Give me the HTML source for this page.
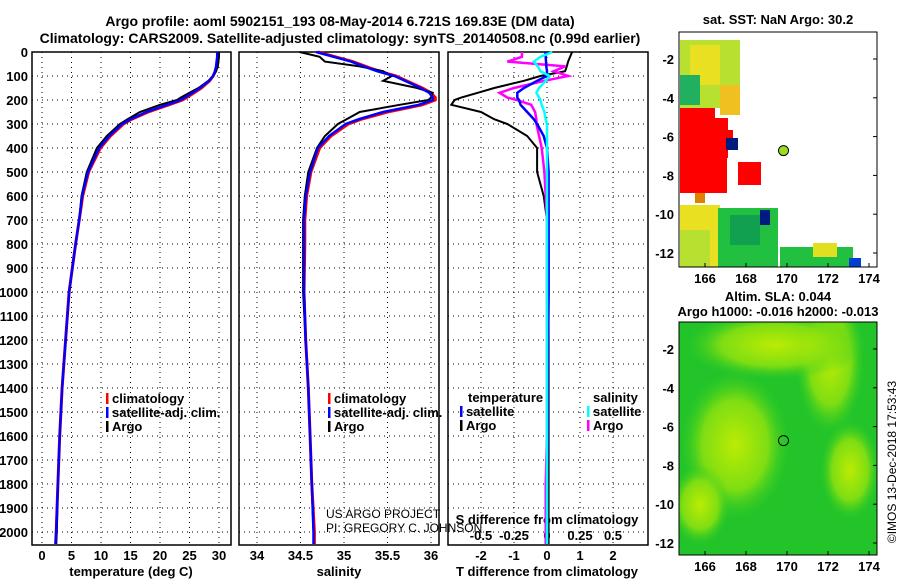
<!DOCTYPE html>
<html><head><meta charset="utf-8"><style>
body{margin:0;background:#fff;width:900px;height:580px;overflow:hidden}
svg{font-family:"Liberation Sans",sans-serif;font-weight:bold;font-size:13px}
</style></head><body>
<svg id="c" width="900" height="580" viewBox="0 0 900 580">
<text x="340" y="26" text-anchor="middle" font-size="14">Argo profile: aoml 5902151_193 08-May-2014 6.721S 169.83E (DM data)</text>
<text x="340" y="43" text-anchor="middle" font-size="14">Climatology: CARS2009. Satellite-adjusted climatology: synTS_20140508.nc (0.99d earlier)</text>
<text x="778" y="24" text-anchor="middle">sat. SST: NaN Argo: 30.2</text>
<text x="778" y="301" text-anchor="middle">Altim. SLA: 0.044</text>
<text x="778" y="316" text-anchor="middle">Argo h1000: -0.016 h2000: -0.013</text>
<text transform="translate(896,462) rotate(-90)" text-anchor="middle" font-weight="normal" font-size="12">©IMOS 13-Dec-2018 17:53:43</text>
<g id="g"></g>
</svg>
<script>
const depths=[0,20,40,60,80,100,120,150,170,190,200,220,250,280,300,350,400,500,600,700,800,1000,1200,1400,1600,1800,2000,2050];
const tempArgo=[30,30,29.9,29.8,29.5,29,28.2,26.5,25,23.5,22.9,20,16.6,14.5,13.2,11,9.3,7.6,6.7,6.3,5.7,4.6,4.0,3.4,3.0,2.7,2.5,2.4];
const tempClim=[29.8,29.8,29.7,29.6,29.4,29,28.4,27,25.8,24.5,23.8,21.5,18,15.2,13.8,11.6,9.9,7.9,6.9,6.3,5.7,4.6,4.0,3.4,3.0,2.7,2.4,2.3];
const tempSat=[29.7,29.7,29.6,29.5,29.3,29,28.3,26.8,25.5,24.2,23.5,21.2,17.7,15,13.6,11.4,9.7,7.8,6.8,6.3,5.7,4.6,4.0,3.4,3.0,2.7,2.4,2.3];
const salArgo=[34.49,34.72,34.78,35.18,35.45,35.55,35.45,35.84,36.02,36.0,35.97,35.64,35.18,35.03,34.93,34.78,34.69,34.59,34.55,34.53,34.53,34.53,34.56,34.59,34.61,34.63,34.65,34.65];
const salClim=[34.7,34.9,35.1,35.25,35.4,35.6,35.72,35.9,36.0,36.05,36.05,35.9,35.5,35.2,35.05,34.85,34.72,34.62,34.57,34.55,34.55,34.54,34.56,34.59,34.61,34.63,34.66,34.66];
const salSat=[34.68,34.88,35.08,35.23,35.38,35.58,35.7,35.88,35.98,36.02,36.02,35.86,35.45,35.17,35.02,34.83,34.7,34.61,34.56,34.54,34.54,34.54,34.56,34.59,34.61,34.63,34.65,34.65];
const dTArgo=[0.76,0.7,0.64,0.6,0.55,-0.2,-0.7,-1.6,-2.1,-2.6,-2.8,-2.9,-2.0,-1.6,-1.2,-0.6,-0.3,-0.3,-0.1,0,0.05,0.05,0.05,0.05,0.05,0.05,0.05,0.05];
const dTSat=[-0.05,-0.04,-0.03,-0.02,0,0,-0.3,-0.7,-0.9,-0.9,-0.85,-0.8,-0.6,-0.4,-0.3,-0.1,0,0.05,0.05,0.05,0.05,0.05,0.03,0.02,0.02,0,0,0];
const dSArgo=[-0.19,-0.19,-0.3,0.14,0.05,0.16,-0.02,-0.25,-0.36,-0.3,-0.23,-0.12,-0.09,-0.08,-0.08,-0.06,-0.04,-0.02,-0.01,0,0,0,0,0,0,-0.01,-0.01,-0.01];
const dSSat=[0.04,-0.05,-0.1,-0.07,-0.05,0.02,-0.01,-0.06,-0.08,-0.06,-0.05,-0.04,-0.02,-0.01,0,0,0,0,0,0,0,0,0,0,0,0,0,0];
const depthTicks=[0,100,200,300,400,500,600,700,800,900,1000,1100,1200,1300,1400,1500,1600,1700,1800,1900,2000];
const tTicks=[0,5,10,15,20,25,30];
const sTicks=[34,34.5,35,35.5,36];
const sTickLabels=["34","34.5","35","35.5","36"];
const dTTicks=[-2,-1,0,1,2];
const dSTicks=[-0.5,-0.25,0,0.25,0.5];
const lonTicks=[166,168,170,172,174];
const latTicks=[-2,-4,-6,-8,-10,-12];
const argoLon=169.83, argoLat=-6.721;

const NS="http://www.w3.org/2000/svg";
const G=document.getElementById('g');
function el(t,a,p){const e=document.createElementNS(NS,t);for(const k in a)e.setAttribute(k,a[k]);(p||G).appendChild(e);return e;}
const yD=d=>52+d*0.24;
const xT=v=>42+v*5.9;
const xS=v=>257+(v-34)*87;
const xDT=v=>547+v*33;
const xDS=v=>547+v*132;
const TOP=52,BOT=545;
const panels=[[32,231],[239,439],[448,648]];

panels.forEach((p,i)=>{
  const r=el('rect',{x:p[0],y:TOP,width:p[1]-p[0],height:BOT-TOP,fill:'none',stroke:'#000','stroke-width':1.5});
  
  
  depthTicks.forEach(d=>{
    const l=el('line',{x1:p[0],x2:p[1],y1:yD(d),y2:yD(d),stroke:'#000','stroke-dasharray':'1 4','stroke-width':1});
    
    
  });
});
depthTicks.forEach(d=>{
  const t=el('text',{x:28,y:yD(d)+5,'text-anchor':'end'});t.textContent=d;
  
  
});
function vgrid(xs,f){xs.forEach(v=>{const l=el('line',{x1:f(v),x2:f(v),y1:TOP,y2:BOT,stroke:'#000','stroke-dasharray':'1 4'});
  
  });}
vgrid(tTicks,xT);vgrid(sTicks,xS);vgrid(dTTicks,xDT);
function xlabels(xs,labs,f,y){xs.forEach((v,i)=>{const t=el('text',{x:f(v),y:y,'text-anchor':'middle'});t.textContent=labs[i];
  
  });}
xlabels(tTicks,tTicks,xT,560);
xlabels(sTicks,sTickLabels,xS,560);
xlabels(dTTicks,dTTicks,xDT,560);
xlabels(dSTicks,dSTicks,xDS,540);
[[131,'temperature (deg C)','x-axis-title-temperature'],[339,'salinity','x-axis-title-salinity'],[547,'T difference from climatology','x-axis-title-t-diff']].forEach(a=>{
  const t=el('text',{x:a[0],y:576,'text-anchor':'middle'});t.textContent=a[1];
  
  
});
const sd=el('text',{x:547,y:524,'text-anchor':'middle'});sd.textContent='S difference from climatology';



function line(vals,fx,col,w,name){
  const pts=vals.map((v,i)=>fx(v).toFixed(1)+','+yD(depths[i]).toFixed(1)).join(' ');
  const l=el('polyline',{points:pts,fill:'none',stroke:col,'stroke-width':w});
  
  
}
line(tempClim,xT,'#f00',3,'temp-climatology-line');
line(tempArgo,xT,'#000',2,'temp-argo-line');
line(tempSat,xT,'#00f',2.5,'temp-satellite-line');
line(salClim,xS,'#f00',3,'sal-climatology-line');
line(salArgo,xS,'#000',2,'sal-argo-line');
line(salSat,xS,'#00f',2.5,'sal-satellite-line');
line(dTArgo,xDT,'#000',2,'tdiff-argo-line');
line(dSArgo,xDS,'#f0f',2.5,'sdiff-argo-line');
line(dTSat,xDT,'#00f',2.5,'tdiff-satellite-line');
line(dSSat,xDS,'#0ff',2.5,'sdiff-satellite-line');

function leg(x,y,col,txt,name){
  const m=el('rect',{x:x,y:y-10,width:2.5,height:11,fill:col});
  
  
  const t=el('text',{x:x+6,y:y});t.textContent=txt;
  
  
}
[['#f00','climatology'],['#00f','satellite-adj. clim.'],['#000','Argo']].forEach((a,i)=>leg(106,403+i*14,a[0],a[1],'legend-entry'));
[['#f00','climatology'],['#00f','satellite-adj. clim.'],['#000','Argo']].forEach((a,i)=>leg(328,403+i*14,a[0],a[1],'legend-entry'));
const lt=el('text',{x:468,y:402});lt.textContent='temperature';
const ls=el('text',{x:593,y:402});ls.textContent='salinity';
leg(460,416,'#00f','satellite','legend-entry');leg(460,430,'#000','Argo','legend-entry');
leg(587,416,'#0ff','satellite','legend-entry');leg(587,430,'#f0f','Argo','legend-entry');
['US ARGO PROJECT','PI: GREGORY C. JOHNSON'].forEach((s,i)=>{const t=el('text',{x:326,y:518+i*14,'font-weight':'normal','font-size':12});t.textContent=s;
  
  });

// maps
const mx=lon=>705+(lon-166)*20.5;
const M2TOP=322;
const my1=lat=>59+(-2-lat)*19.4, my2=lat=>349+(-2-lat)*19.4;
const defs=el('defs',{});
const cp=el('clipPath',{id:'m2c'},defs);
el('rect',{x:679,y:M2TOP,width:198,height:555-M2TOP},cp);
const rg=el('radialGradient',{id:'yg'},defs);
el('stop',{offset:'0','stop-color':'#ccf000'},rg);el('stop',{offset:'0.6','stop-color':'#88e010'},rg);el('stop',{offset:'1','stop-color':'#33cc22','stop-opacity':0},rg);
const mg=el('g',{'clip-path':'url(#m2c)'});
const m2=el('rect',{x:679,y:M2TOP,width:198,height:555-M2TOP,fill:'#22c42a'},mg);

[[735,445,55,75],[830,360,35,75],[775,345,90,35],[700,505,30,40],[850,470,30,50]].forEach(b=>{
  const e=el('ellipse',{cx:b[0],cy:b[1],rx:b[2],ry:b[3],fill:'url(#yg)',opacity:0.9},mg);
  
});
const m1=el('rect',{x:679,y:32,width:198,height:235,fill:'#fff'});

[[680,40,60,68,'#b8e030'],[690,45,30,40,'#e8e020'],[680,75,20,30,'#20b060'],[720,85,20,30,'#f0c020'],[680,108,18,85,'#f00'],[695,108,20,10,'#f00'],[680,118,48,40,'#f00'],[710,130,23,20,'#f00'],[692,158,35,35,'#f00'],[738,162,23,23,'#f00'],[726,138,12,12,'#001a80'],[695,193,10,10,'#e08000'],[680,205,40,62,'#e8e020'],[680,230,30,37,'#b8e030'],[718,208,60,59,'#22c040'],[730,215,30,30,'#10a050'],[780,247,73,20,'#22c040'],[813,243,24,14,'#e0e020'],[760,210,10,15,'#001a80'],[849,258,12,9,'#0040d0']].forEach(b=>{
  const r=el('rect',{x:b[0],y:b[1],width:b[2],height:b[3],fill:b[4]});
  
});
[[32,267,my1,'sst'],[M2TOP,555,my2,'sla']].forEach(m=>{
  const f=el('rect',{x:679,y:m[0],width:198,height:m[1]-m[0],fill:'none',stroke:'#000','stroke-width':1});
  
  lonTicks.forEach(v=>{const t=el('text',{x:mx(v),y:m[1]+16,'text-anchor':'middle'});t.textContent=v;
    
    el('line',{x1:mx(v),x2:mx(v),y1:m[1],y2:m[1]-4,stroke:'#000'});});
  latTicks.forEach(v=>{const t=el('text',{x:674,y:m[2](v)+5,'text-anchor':'end'});t.textContent=v;
    
    el('line',{x1:877,x2:873,y1:m[2](v),y2:m[2](v),stroke:'#000'});});
  const c=el('circle',{cx:mx(argoLon),cy:m[2](argoLat),r:5,fill:m[3]=='sst'?'#99dd22':'none',stroke:'#000'});
  
});
</script>
</body></html>
